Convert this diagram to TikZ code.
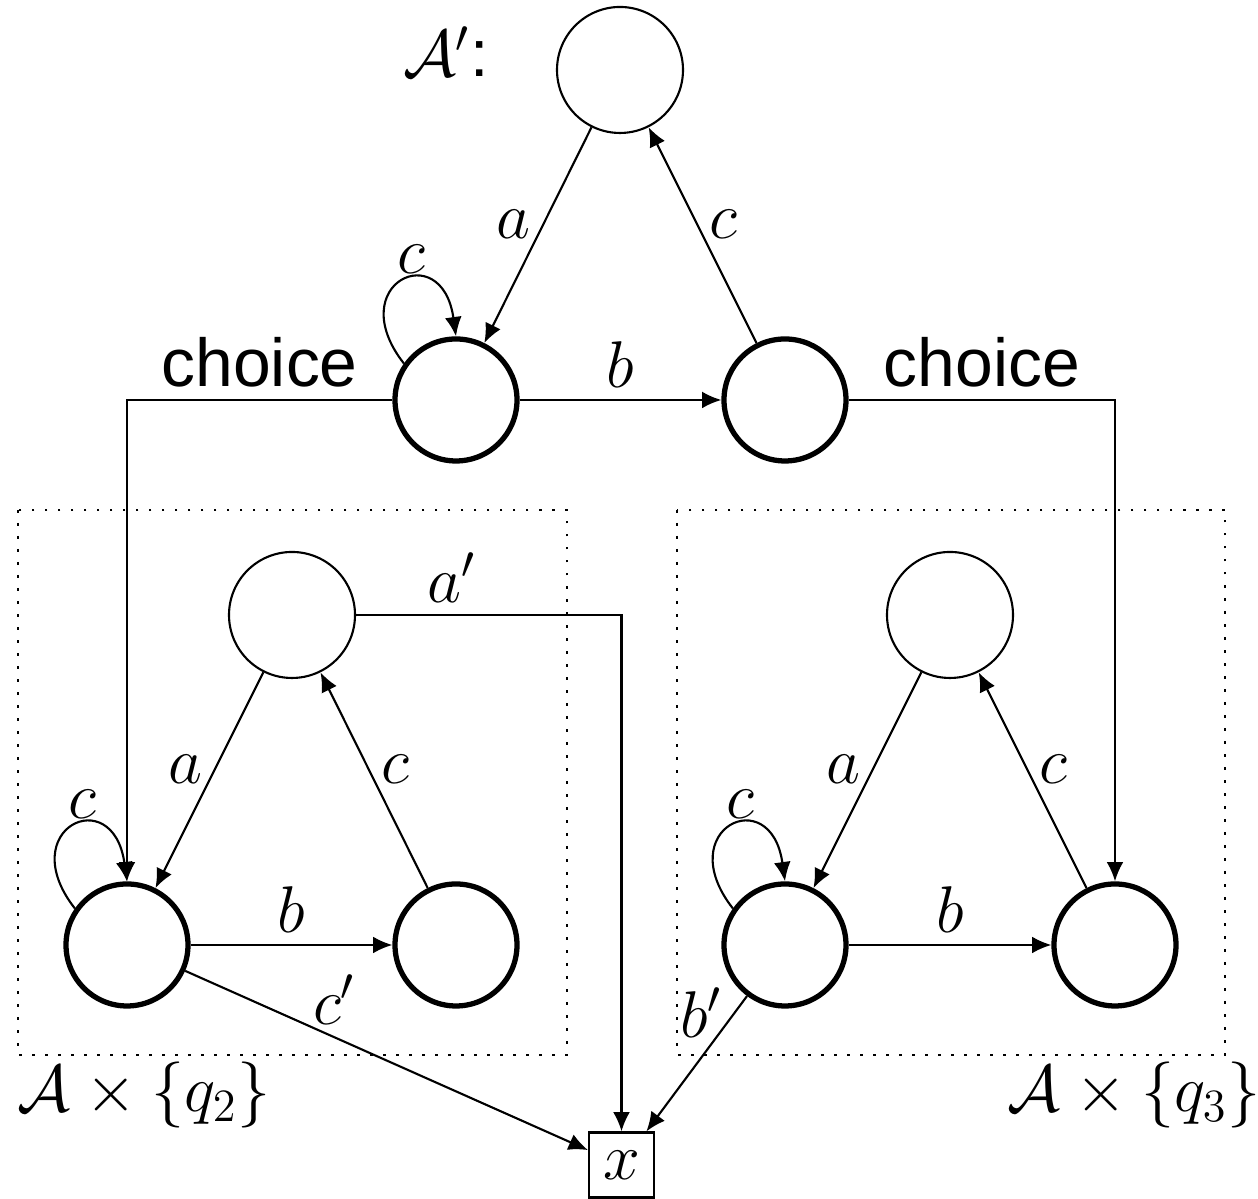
\RequirePackage{fix-cm}
\documentclass[tikz,border=0pt]{standalone}
\usepackage{amsmath}
\usepackage{fontspec}
\setsansfont{Liberation Sans}
\usetikzlibrary{arrows.meta}

\begin{document}
\begin{tikzpicture}[
  every node/.style={font=\fontsize{18.8}{22}\selectfont},
  state/.style={circle, draw, line width=0.6pt, minimum size=1.26cm, inner sep=0pt},
  accept/.style={state, line width=1.5pt, minimum size=1.22cm},
  trans/.style={line width=0.6pt, -{Latex[length=5.5pt,width=4.8pt]}},
  frame/.style={line width=0.8pt, dash pattern=on 0.8pt off 2.9pt},
  word/.style={font=\fontsize{19.3}{22}\selectfont\sffamily},
]
  \useasboundingbox (0,0) rectangle (12.58,11.99);

  % A'
  \node (top) [state] at (6.20,11.29) {};
  \node (p1) [accept] at (4.56,7.99) {};
  \node (p2) [accept] at (7.85,7.99) {};
  \node (name) at (4.46,11.47) {$\mathcal{A}'$\textsf{:}};

  % A x {q2}
  \node (l0) [state] at (2.92,5.84) {};
  \node (l1) [accept] at (1.27,2.54) {};
  \node (l2) [accept] at (4.56,2.54) {};

  % A x {q3}
  \node (r0) [state] at (9.50,5.84) {};
  \node (r1) [accept] at (7.85,2.54) {};
  \node (r2) [accept] at (11.15,2.54) {};

  \node (x) [draw, line width=0.6pt, minimum size=0.65cm, inner sep=0pt] at (6.215,0.34) {$x$};

  \draw[frame] (0.18,6.89) rectangle (5.67,1.44);
  \draw[frame] (6.77,6.89) rectangle (12.25,1.44);
  \node (q2) at (1.44,1.04) {$\mathcal{A}\times\{q_2\}$};
  \node (q3) at (11.34,1.04) {$\mathcal{A}\times\{q_3\}$};

  \draw[trans] (top) -- node[left, pos=0.45] {$a$} (p1);
  \draw[trans] (p2) -- node[right, pos=0.55] {$c$} (top);
  \draw[trans] (p1) -- node[above] {$b$} (p2);
  \draw[trans] (p1.145) to[out=128, in=98, looseness=4.4] node[above, xshift=3pt, yshift=-1pt] {$c$} (p1.north);

  \draw[trans] (p1.west) -| node[word, above, pos=0.25] {choice} (l1.north);
  \draw[trans] (p2.east) -| node[word, above, pos=0.25] {choice} (r2.north);

  \draw[trans] (l0) -- node[left, pos=0.45] {$a$} (l1);
  \draw[trans] (l2) -- node[right, pos=0.55] {$c$} (l0);
  \draw[trans] (l1) -- node[above] {$b$} (l2);
  \draw[trans] (l1.145) to[out=128, in=98, looseness=4.4] node[above, xshift=3pt, yshift=-1pt] {$c$} (l1.north);
  \draw[trans] (l0.east) -| node[above, pos=0.18] {$a'$} (x.north);
  \draw[trans] (l1) -- node[above, pos=0.37] {$c'$} (x);

  \draw[trans] (r0) -- node[left, pos=0.45] {$a$} (r1);
  \draw[trans] (r2) -- node[right, pos=0.55] {$c$} (r0);
  \draw[trans] (r1) -- node[above] {$b$} (r2);
  \draw[trans] (r1.145) to[out=128, in=98, looseness=4.4] node[above, xshift=3pt, yshift=-1pt] {$c$} (r1.north);
  \draw[trans] (r1) -- node[left, pos=0.12] {$b'$} (x);
\end{tikzpicture}
\end{document}
